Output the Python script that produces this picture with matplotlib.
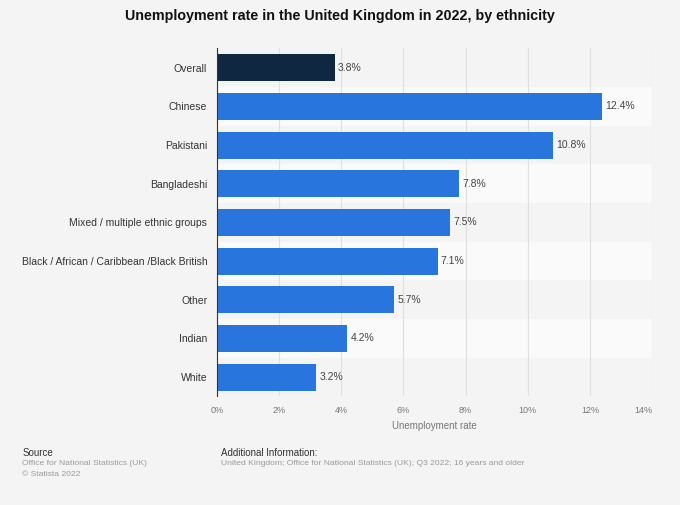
import matplotlib.pyplot as plt
from matplotlib.ticker import FuncFormatter

plt.rcParams['font.family'] = ['Liberation Sans', 'DejaVu Sans']

# data
groups = ['Overall', 'Chinese', 'Pakistani', 'Bangladeshi', 'Mixed / multiple ethnic groups',
          'Black / African / Caribbean /Black British', 'Other', 'Indian', 'White']
rates = [3.8, 12.4, 10.8, 7.8, 7.5, 7.1, 5.7, 4.2, 3.2]
colors = ['#0f2741'] + ['#2876dd'] * 8
xticks = [0, 2, 4, 6, 8, 10, 12, 14]

bg = '#f4f4f4'
fig = plt.figure(figsize=(6.8, 5.05), dpi=100, facecolor=bg)
ax = fig.add_axes([0.319, 0.215, 0.640, 0.689])
ax.set_facecolor(bg)

y = list(range(len(groups)))
# alternating row bands
for i in y:
    if i % 2 == 1:
        ax.axhspan(i - 0.5, i + 0.5, color='#fafafa', zorder=0, lw=0)

ax.barh(y, rates, height=0.7, color=colors, zorder=3)
for i, v in zip(y, rates):
    ax.text(v + 0.1, i, f'{v}%', va='center', ha='left', fontsize=7.5, color='#444444', zorder=4)

ax.set_xlim(0, 14)
ax.set_ylim(len(groups) - 0.5, -0.5)
ax.set_yticks(y)
ax.set_yticklabels(groups, fontsize=7.5, color='#333333')
ax.set_xticks(xticks)
ax.xaxis.set_major_formatter(FuncFormatter(lambda v, p: f'{v:.0f}%'))
ax.tick_params(axis='x', labelsize=6.5, colors='#777777', length=0, pad=7)
ax.tick_params(axis='y', length=0, pad=7)
ax.get_xticklabels()[-1].set_ha('right')
ax.grid(axis='x', color='#e0e0e0', lw=0.8, zorder=1)
for s in ['top', 'right', 'bottom']:
    ax.spines[s].set_visible(False)
ax.spines['left'].set_color('#333333')
ax.spines['left'].set_zorder(5)
ax.set_xlabel('Unemployment rate', fontsize=7, color='#777777', labelpad=4)

fig.text(0.5, 0.968, 'Unemployment rate in the United Kingdom in 2022, by ethnicity',
         ha='center', va='center', fontsize=10.3, fontweight='bold', color='#111111')

fig.text(0.033, 0.103, 'Source', fontsize=7, color='#333333', va='center')
fig.text(0.033, 0.082, 'Office for National Statistics (UK)', fontsize=6.1, color='#999999', va='center')
fig.text(0.033, 0.061, '\u00a9 Statista 2022', fontsize=6.1, color='#999999', va='center')
fig.text(0.325, 0.103, 'Additional Information:', fontsize=7, color='#333333', va='center')
fig.text(0.325, 0.082, 'United Kingdom; Office for National Statistics (UK); Q3 2022; 16 years and older',
         fontsize=6.1, color='#999999', va='center')

fig.savefig('out.png', dpi=100, facecolor=bg)
